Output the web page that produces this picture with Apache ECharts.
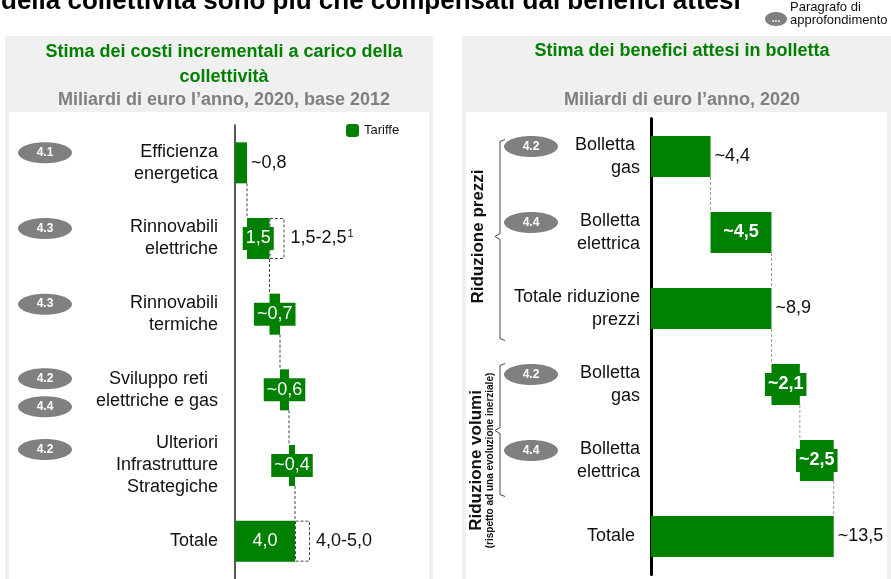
<!DOCTYPE html>
<html>
<head>
<meta charset="utf-8">
<script src="https://cdn.jsdelivr.net/npm/echarts@6/dist/echarts.min.js"></script>
<style>
  html, body { margin: 0; padding: 0; background: #fff; }
  #chart { width: 891px; height: 579px; }
</style>
</head>
<body>
<div id="chart"></div>
<script>
const FONT = '"Liberation Sans", Arial, sans-serif'
const GREEN = '#008000'
const BAR_W = 41

// left panel: costi incrementali
const leftCategories = ['Efficienza\nenergetica', 'Rinnovabili\nelettriche', 'Rinnovabili\ntermiche', 'Sviluppo reti  \nelettriche e gas', 'Ulteriori\nInfrastrutture\nStrategiche', 'Totale']
const leftValues = [0.8, 1.5, 0.7, 0.6, 0.4, 4.0]
const leftIsTotal = [false, false, false, false, false, true]
const leftRange = [null, 1.0, null, null, null, 1.0]
const leftLabels = ['~0,8', '1,5', '~0,7', '~0,6', '~0,4', '4,0']
const leftRangeLabels = [null, ['1,5-2,5', '1'], null, null, null, ['4,0-5,0', '']]
const leftBadges = [['4.1'], ['4.3'], ['4.3'], ['4.2', '4.4'], ['4.2'], []]

// right panel: benefici in bolletta
const rightCategories = ['Bolletta \ngas', 'Bolletta\nelettrica', 'Totale riduzione\nprezzi', 'Bolletta\ngas', 'Bolletta\nelettrica', 'Totale ']
const rightValues = [4.4, 4.5, 8.9, 2.1, 2.5, 13.5]
const rightIsTotal = [false, false, true, false, false, true]
const rightLabels = ['~4,4', '~4,5', '~8,9', '~2,1', '~2,5', '~13,5']
const rightBadges = [['4.2'], ['4.4'], [], ['4.2'], ['4.4'], []]

// label look per row
const leftLabelKind = ['outside', 'box', 'box', 'box', 'box', 'inside']
const rightLabelKind = ['outside', 'insideBold', 'outside', 'boxBold', 'boxBold', 'outside']

function offsets (values, isTotal) {
  let run = 0
  return values.map((v, i) => {
    if (isTotal[i]) return 0
    const b = run
    run += v
    return b
  })
}

const leftBase = offsets(leftValues, leftIsTotal)
const rightBase = offsets(rightValues, rightIsTotal)

function labelFor (kind) {
  const base = { show: true, fontFamily: FONT, fontSize: 18 }
  if (kind === 'outside') return Object.assign(base, { position: 'right', distance: 4, color: '#111' })
  if (kind === 'inside') return Object.assign(base, { position: 'inside', color: '#fff' })
  if (kind === 'insideBold') return Object.assign(base, { position: 'inside', color: '#fff', fontWeight: 'bold' })
  const box = Object.assign(base, { position: 'inside', color: '#fff', backgroundColor: GREEN, padding: [3, 3, 2, 3] })
  if (kind === 'boxBold') box.fontWeight = 'bold'
  return box
}

function connectorPoints (values, base) {
  const pts = []
  for (let i = 0; i < values.length - 1; i++) pts.push([base[i] + values[i], i])
  return pts
}

function connectorSeries (gridIdx, points, color) {
  return {
    type: 'custom',
    xAxisIndex: gridIdx,
    yAxisIndex: gridIdx,
    silent: true,
    z: 1,
    encode: { x: 0, y: 1 },
    data: points,
    renderItem: (params, api) => {
      const p = api.coord([api.value(0), api.value(1)])
      const band = api.size([0, 1])[1]
      return {
        type: 'line',
        shape: { x1: p[0], y1: p[1] + BAR_W / 2, x2: p[0], y2: p[1] + band - BAR_W / 2 },
        style: { stroke: color, lineWidth: 1, lineDash: [3, 2] }
      }
    }
  }
}

const chart = echarts.init(document.getElementById('chart'))

const option = {
  animation: false,
  textStyle: { fontFamily: FONT },
  title: [
    {
      text: 'Stima dei costi incrementali a carico della\ncollettività',
      left: 219, top: 35, textAlign: 'center',
      textStyle: { color: GREEN, fontSize: 18, fontWeight: 'bold', lineHeight: 25, fontFamily: FONT }
    },
    {
      text: 'Miliardi di euro l’anno, 2020, base 2012',
      left: 219, top: 86, textAlign: 'center',
      textStyle: { color: '#7f7f7f', fontSize: 18, fontWeight: 'bold', fontFamily: FONT }
    },
    {
      text: 'Stima dei benefici attesi in bolletta',
      left: 677, top: 37, textAlign: 'center',
      textStyle: { color: GREEN, fontSize: 18, fontWeight: 'bold', fontFamily: FONT }
    },
    {
      text: 'Miliardi di euro l’anno, 2020',
      left: 677, top: 86, textAlign: 'center',
      textStyle: { color: '#7f7f7f', fontSize: 18, fontWeight: 'bold', fontFamily: FONT }
    }
  ],
  legend: {
    data: ['Tariffe'],
    left: 341, top: 119,
    itemWidth: 13, itemHeight: 13, itemGap: 8,
    selectedMode: false,
    textStyle: { fontSize: 13, color: '#111', fontFamily: FONT }
  },
  grid: [
    { left: 235, top: 125, width: 150, height: 456 },
    { left: 651, top: 118.5, width: 203, height: 456 }
  ],
  xAxis: [
    { type: 'value', gridIndex: 0, min: 0, max: 10, show: false },
    { type: 'value', gridIndex: 1, min: 0, max: 15, show: false }
  ],
  yAxis: [
    {
      type: 'category', gridIndex: 0, inverse: true,
      data: leftCategories.map((_, i) => String(i)),
      axisTick: { show: false },
      axisLine: { lineStyle: { color: '#222', width: 1.5 } },
      axisLabel: {
        formatter: (v, i) => leftCategories[i],
        align: 'right', margin: 17, fontSize: 18, lineHeight: 22, color: '#111', fontFamily: FONT
      }
    },
    {
      type: 'category', gridIndex: 1, inverse: true,
      data: rightCategories.map((_, i) => String(i)),
      axisTick: { show: false },
      axisLine: { lineStyle: { color: '#000', width: 3 } },
      axisLabel: {
        formatter: (v, i) => rightCategories[i],
        align: 'right', margin: 11, fontSize: 18, lineHeight: 23, color: '#111', fontFamily: FONT
      }
    }
  ],
  series: [
    {
      name: 'base-left', type: 'bar', stack: 'L', xAxisIndex: 0, yAxisIndex: 0,
      barWidth: BAR_W, silent: true,
      itemStyle: { color: 'rgba(0,0,0,0)' },
      data: leftBase
    },
    {
      name: 'Tariffe', type: 'bar', stack: 'L', xAxisIndex: 0, yAxisIndex: 0,
      barWidth: BAR_W, itemStyle: { color: GREEN },
      data: leftValues.map((v, i) => ({
        value: v,
        label: Object.assign(labelFor(leftLabelKind[i]), { formatter: leftLabels[i] })
      })),
      z: 3
    },
    {
      name: 'range-left', type: 'bar', stack: 'L', xAxisIndex: 0, yAxisIndex: 0,
      barWidth: BAR_W, silent: true,
      itemStyle: { color: 'rgba(0,0,0,0)', borderColor: '#444', borderWidth: 1, borderType: [3, 2] },
      data: leftRange.map((v, i) => ({
        value: v,
        label: {
          show: v != null, position: 'right', distance: 6,
          formatter: leftRangeLabels[i] ? '{a|' + leftRangeLabels[i][0] + '}{s|' + leftRangeLabels[i][1] + '}' : '',
          rich: {
            a: { fontSize: 18, color: '#111', fontFamily: FONT },
            s: { fontSize: 11, color: '#111', fontFamily: FONT, padding: [0, 0, 10, 1] }
          }
        }
      }))
    },
    {
      name: 'base-right', type: 'bar', stack: 'R', xAxisIndex: 1, yAxisIndex: 1,
      barWidth: BAR_W, silent: true,
      itemStyle: { color: 'rgba(0,0,0,0)' },
      data: rightBase
    },
    {
      name: 'Benefici', type: 'bar', stack: 'R', xAxisIndex: 1, yAxisIndex: 1,
      barWidth: BAR_W, itemStyle: { color: GREEN },
      data: rightValues.map((v, i) => ({
        value: v,
        label: Object.assign(labelFor(rightLabelKind[i]), { formatter: rightLabels[i] })
      })),
      z: 3
    },
    connectorSeries(0, connectorPoints(leftValues, leftBase), '#444'),
    connectorSeries(1, connectorPoints(rightValues, rightBase), '#999')
  ]
}

chart.setOption(option)

// decorations placed from the axes' own pixel positions
const rowY = (grid, i) => chart.convertToPixel({ gridIndex: grid }, [0, i])[1]

function badge (cx, cy, text) {
  return [
    { type: 'ellipse', z: 10, shape: { cx: cx, cy: cy, rx: 27, ry: 10.5 }, style: { fill: '#808080' } },
    {
      type: 'text', z: 11, x: cx, y: cy,
      style: { text: text, fill: '#fff', font: 'bold 12px ' + FONT, align: 'center', verticalAlign: 'middle', textAlign: 'center', textVerticalAlign: 'middle' }
    }
  ]
}

function badgesFor (grid, list, categories, cx) {
  const out = []
  list.forEach((b, i) => {
    const y = rowY(grid, i)
    const lines = categories[i].split('\n').length
    const offs = b.length > 1 ? [-11, 17] : [lines > 2 ? -16 : -10]
    b.forEach((t, k) => out.push(...badge(cx, y + offs[k], t)))
  })
  return out
}

function brace (x, top, mid, bottom) {
  return {
    type: 'polyline', z: 10,
    shape: { points: [[x + 5, top], [x, top + 2], [x, mid - 3], [x - 5, mid], [x, mid + 3], [x, bottom - 2], [x + 5, bottom]] },
    style: { stroke: '#444', lineWidth: 1, fill: null }
  }
}

function vtext (x, y, text, font) {
  return {
    type: 'text', z: 10, x: x, y: y, rotation: Math.PI / 2,
    style: { text: text, fill: '#111', font: font, align: 'center', verticalAlign: 'middle', textAlign: 'center', textVerticalAlign: 'middle' }
  }
}

const r = i => rowY(1, i)

const graphics = [
  // panels
  { type: 'rect', z: -10, shape: { x: 5, y: 36, width: 428, height: 560 }, style: { fill: '#f0f0f0' } },
  { type: 'rect', z: -9, shape: { x: 9, y: 112, width: 420, height: 480 }, style: { fill: '#fff' } },
  { type: 'rect', z: -10, shape: { x: 462, y: 36, width: 440, height: 560 }, style: { fill: '#f0f0f0' } },
  { type: 'rect', z: -9, shape: { x: 466, y: 112, width: 421, height: 480 }, style: { fill: '#fff' } },
  // clipped headline
  {
    type: 'text', z: 10, x: 1, y: 15,
    style: { text: 'della collettività sono più che compensati dai benefici attesi', fill: '#000', font: 'bold 26px ' + FONT, align: 'left', verticalAlign: 'bottom', textAlign: 'left', textVerticalAlign: 'bottom' }
  },
  // key for the badges
  { type: 'ellipse', z: 10, shape: { cx: 776, cy: 19, rx: 11, ry: 7 }, style: { fill: '#808080' } },
  {
    type: 'text', z: 11, x: 776, y: 19,
    style: { text: '...', fill: '#fff', font: 'bold 10px ' + FONT, align: 'center', verticalAlign: 'middle', textAlign: 'center', textVerticalAlign: 'middle' }
  },
  {
    type: 'text', z: 10, x: 790, y: 1,
    style: { text: 'Paragrafo di\napprofondimento', fill: '#111', font: '13px ' + FONT, lineHeight: 13, align: 'left', verticalAlign: 'top', textAlign: 'left', textVerticalAlign: 'top' }
  },
  // brackets on the right panel
  brace(500, r(0) - 17, (r(0) + r(2)) / 2 + 4, r(2) + 32),
  brace(500, r(3) - 21, (r(3) + r(4)) / 2 + 8, r(4) + 36),
  vtext(478, (r(0) + r(2)) / 2 + 4, 'Riduzione prezzi', 'bold 17px ' + FONT),
  vtext(476, (r(3) + r(4)) / 2 + 38, 'Riduzione volumi', 'bold 17px ' + FONT),
  vtext(490, (r(3) + r(4)) / 2 + 38, '(rispetto ad una evoluzione inerziale)', 'bold 10px ' + FONT)
]
  .concat(badgesFor(0, leftBadges, leftCategories, 45))
  .concat(badgesFor(1, rightBadges, rightCategories, 531))

chart.setOption({ graphic: graphics })
</script>
</body>
</html>
